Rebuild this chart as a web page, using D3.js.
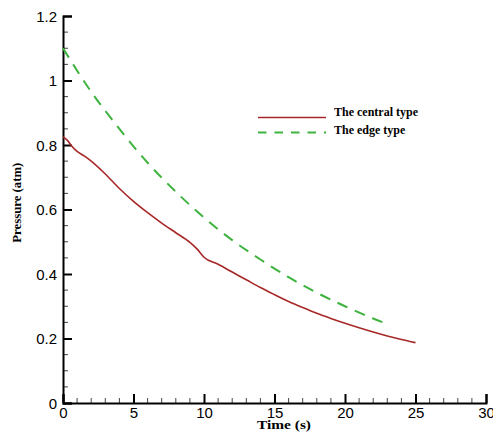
<!DOCTYPE html>
<html>
<head>
<meta charset="utf-8">
<script src="https://cdn.jsdelivr.net/npm/d3@7"></script>
<style>
  body { margin: 0; background: #fff; }
  .tick-label { font-family: "Liberation Sans", Arial, sans-serif; font-size: 15px; fill: #000; }
  .axis-title { font-family: "Liberation Serif", "Times New Roman", serif; font-size: 11.5px; font-weight: bold; fill: #000; }
  .legend-text { font-family: "Liberation Serif", "Times New Roman", serif; font-size: 12px; font-weight: bold; fill: #000; }
</style>
</head>
<body>
<div id="chart"></div>
<script>
var svgWidth = 493;
var svgHeight = 432;

var margin = { top: 16, right: 7, bottom: 29, left: 63 };
var width = svgWidth - margin.left - margin.right;
var height = svgHeight - margin.top - margin.bottom;

// central type (solid red)
var centralTime = [0, 0.3, 0.6, 1, 1.5, 2, 3, 4, 5, 6, 7, 8, 9, 9.5, 10, 11, 12, 13, 14, 15, 16, 17, 18, 19, 20, 21, 22, 23, 24, 25];
var centralPressure = [0.825, 0.815, 0.798, 0.78, 0.766, 0.75, 0.71, 0.665, 0.625, 0.59, 0.558, 0.528, 0.498, 0.478, 0.452, 0.43, 0.406, 0.382, 0.358, 0.336, 0.315, 0.296, 0.278, 0.262, 0.247, 0.233, 0.22, 0.208, 0.197, 0.187];

// edge type (dashed green)
var edgeTime = [0, 2, 4, 6, 8, 10, 12, 14, 16, 18, 20, 22, 23];
var edgePressure = [1.10, 0.965, 0.85, 0.745, 0.655, 0.575, 0.505, 0.445, 0.39, 0.342, 0.300, 0.262, 0.245];

var xTicks = [0, 5, 10, 15, 20, 25, 30];
var yTicks = [0, 0.2, 0.4, 0.6, 0.8, 1, 1.2];
var seriesNames = ["The central type", "The edge type"];

var svg = d3.select("#chart")
  .append("svg")
  .attr("width", svgWidth)
  .attr("height", svgHeight);

var chartGroup = svg.append("g")
  .attr("transform", `translate(${margin.left}, ${margin.top})`);

var xScale = d3.scaleLinear().domain([0, 30]).range([0, width]);
var yScale = d3.scaleLinear().domain([0, 1.2]).range([height, 0]);

// minor ticks
var xMinor = d3.range(0, 30.01, 1).filter(d => d % 5 !== 0);
var yMinor = d3.range(0, 1.201, 0.05).filter(d => Math.abs(d / 0.2 - Math.round(d / 0.2)) > 1e-6);

chartGroup.selectAll(".xminor").data(xMinor).enter().append("line")
  .attr("x1", d => xScale(d)).attr("x2", d => xScale(d))
  .attr("y1", height).attr("y2", height - 5)
  .attr("stroke", "#444").attr("stroke-width", 1);

chartGroup.selectAll(".yminor").data(yMinor).enter().append("line")
  .attr("y1", d => yScale(d)).attr("y2", d => yScale(d))
  .attr("x1", 0).attr("x2", 5)
  .attr("stroke", "#444").attr("stroke-width", 1);

// major ticks (pointing inward)
var bottomAxis = d3.axisBottom(xScale).tickValues(xTicks).tickSize(-9).tickPadding(10).tickFormat(d3.format("d"));
var leftAxis = d3.axisLeft(yScale).tickValues(yTicks).tickSize(-9).tickPadding(6).tickFormat(d => d === 0 ? "0" : d3.format("")(d));

var xAxis = chartGroup.append("g")
  .attr("transform", `translate(0, ${height})`)
  .call(bottomAxis);

var yAxis = chartGroup.append("g")
  .call(leftAxis);

[xAxis, yAxis].forEach(function(ax) {
  ax.select(".domain").attr("stroke", "#000").attr("stroke-width", 2);
  ax.selectAll(".tick line").attr("stroke", "#000").attr("stroke-width", 2);
  ax.selectAll(".tick text").attr("class", "tick-label").attr("font-size", null).attr("font-family", null);
});
xAxis.selectAll(".tick text").attr("dy", "0.3em");
yAxis.selectAll(".tick text").attr("dy", "0.35em");

// lines
var centralData = centralTime.map((t, i) => ({ t: t, p: centralPressure[i] }));
var edgeData = edgeTime.map((t, i) => ({ t: t, p: edgePressure[i] }));

var line = d3.line()
  .x(d => xScale(d.t))
  .y(d => yScale(d.p))
  .curve(d3.curveMonotoneX);

chartGroup.append("path")
  .datum(edgeData)
  .attr("d", line)
  .attr("fill", "none")
  .attr("stroke", "#3fb33f")
  .attr("stroke-width", 2)
  .attr("stroke-dasharray", "11,8");

chartGroup.append("path")
  .datum(centralData)
  .attr("d", line)
  .attr("fill", "none")
  .attr("stroke", "#a82828")
  .attr("stroke-width", 1.6);

// legend
var legend = svg.append("g").attr("transform", "translate(258, 117.5)");
legend.append("line")
  .attr("x1", 0).attr("x2", 68).attr("y1", 0).attr("y2", 0)
  .attr("stroke", "#a82828").attr("stroke-width", 1.6);
legend.append("line")
  .attr("x1", 0).attr("x2", 68).attr("y1", 15).attr("y2", 15)
  .attr("stroke", "#3fb33f").attr("stroke-width", 2)
  .attr("stroke-dasharray", "8.5,8");
legend.selectAll("text").data(seriesNames).enter().append("text")
  .attr("class", "legend-text")
  .attr("x", 76)
  .attr("y", (d, i) => i === 0 ? -1.5 : 16.5)
  .text(d => d);

// axis titles
svg.append("text")
  .attr("class", "axis-title")
  .attr("text-anchor", "middle")
  .attr("x", 284)
  .attr("y", 428.5)
  .attr("textLength", 54)
  .attr("lengthAdjust", "spacingAndGlyphs")
  .text("Time (s)");

svg.append("text")
  .attr("class", "axis-title")
  .attr("text-anchor", "middle")
  .attr("transform", "translate(20.5, 202.7) rotate(-90)")
  .attr("textLength", 80)
  .attr("lengthAdjust", "spacingAndGlyphs")
  .text("Pressure (atm)");
</script>
</body>
</html>
